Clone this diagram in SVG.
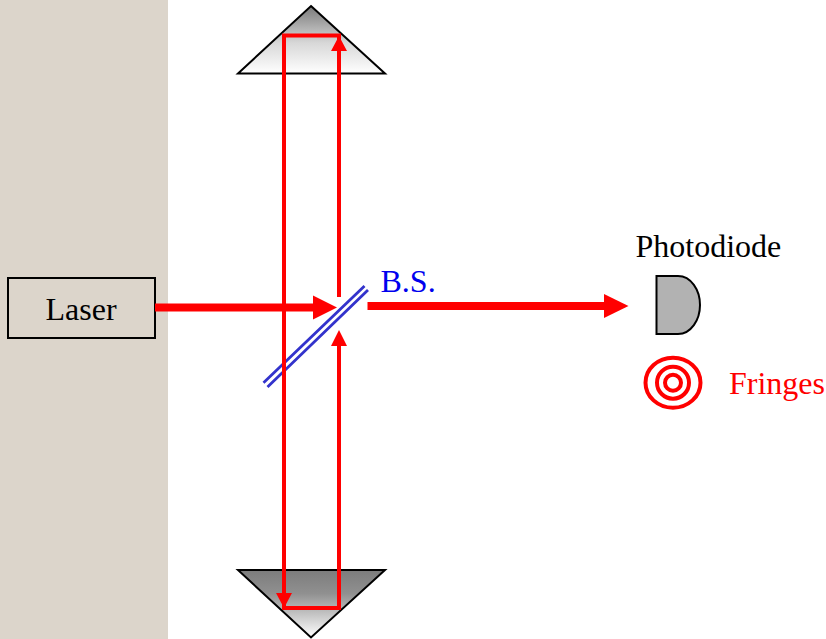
<svg xmlns="http://www.w3.org/2000/svg" width="826" height="639" viewBox="0 0 826 639">
<style>
text{font-family:"Liberation Serif","Times New Roman",serif;font-size:32px}
.prism{stroke:#000;stroke-width:2;stroke-linejoin:miter}
.beam{fill:none;stroke:#f00;stroke-width:4;stroke-linejoin:miter}
.thick{fill:none;stroke:#f00;stroke-width:8}
.head{fill:#f00}
.bs{stroke:#3333cc;stroke-width:2.800;fill:none}
.ring{fill:none;stroke:#f00;stroke-width:4}
</style>
<defs>
<linearGradient id="gt" x1="0" y1="0" x2="0" y2="1"><stop offset="0" stop-color="#7a7a7a"/><stop offset="0.55" stop-color="#d8d8d8"/><stop offset="1" stop-color="#fff"/></linearGradient>
<linearGradient id="gb" x1="0" y1="0" x2="0" y2="1"><stop offset="0" stop-color="#7c7c7c"/><stop offset="0.35" stop-color="#909090"/><stop offset="1" stop-color="#fff"/></linearGradient>
</defs>
<rect id="panel" x="0" y="0" width="168" height="639" fill="#dcd5cb"/>
<g id="prism-top"><polygon class="prism" points="311,6 385,73.500 238,73.500" fill="url(#gt)"/></g>
<g id="prism-bottom"><polygon class="prism" points="238,570 385,570 311,637.500" fill="url(#gb)"/></g>
<g id="laser"><rect x="8" y="278" width="147" height="60" fill="#dcd5cb" stroke="#000" stroke-width="2"/><text x="81" y="320" text-anchor="middle">Laser</text></g>
<g id="beam-splitter"><path class="bs" d="M263.500 382.700L364.500 286M267.500 387L368 290"/><text x="380.500" y="292" fill="#0000ee">B.S.</text></g>
<g id="photodiode"><path d="M656.500 276H678C691 276 700 290 700 305C700 320 691 334 678 334H656.500Z" fill="#b2b2b2" stroke="#000" stroke-width="2"/><text x="635.500" y="257">Photodiode</text></g>
<g id="fringes"><ellipse class="ring" cx="673" cy="382.700" rx="27.500" ry="25"/><ellipse class="ring" cx="673" cy="382.700" rx="16" ry="16"/><ellipse class="ring" cx="673" cy="382.700" rx="8" ry="8"/><text x="729" y="394" fill="#f00">Fringes</text></g>
<g id="connectors">
<path class="beam" d="M339 297V35.500H284V608H339V346"/>
<polygon class="head" points="339,36 347,51 331,51"/>
<polygon class="head" points="284,608 276,593 292,593"/>
<polygon class="head" points="339,330 347,346 331,346"/>
<path class="thick" d="M155 307.500H314"/>
<polygon class="head" points="337,307.500 313,295.500 313,319.500"/>
<path class="thick" d="M367.500 306H605"/>
<polygon class="head" points="628.500,306 604,294 604,318"/>
</g>
</svg>
